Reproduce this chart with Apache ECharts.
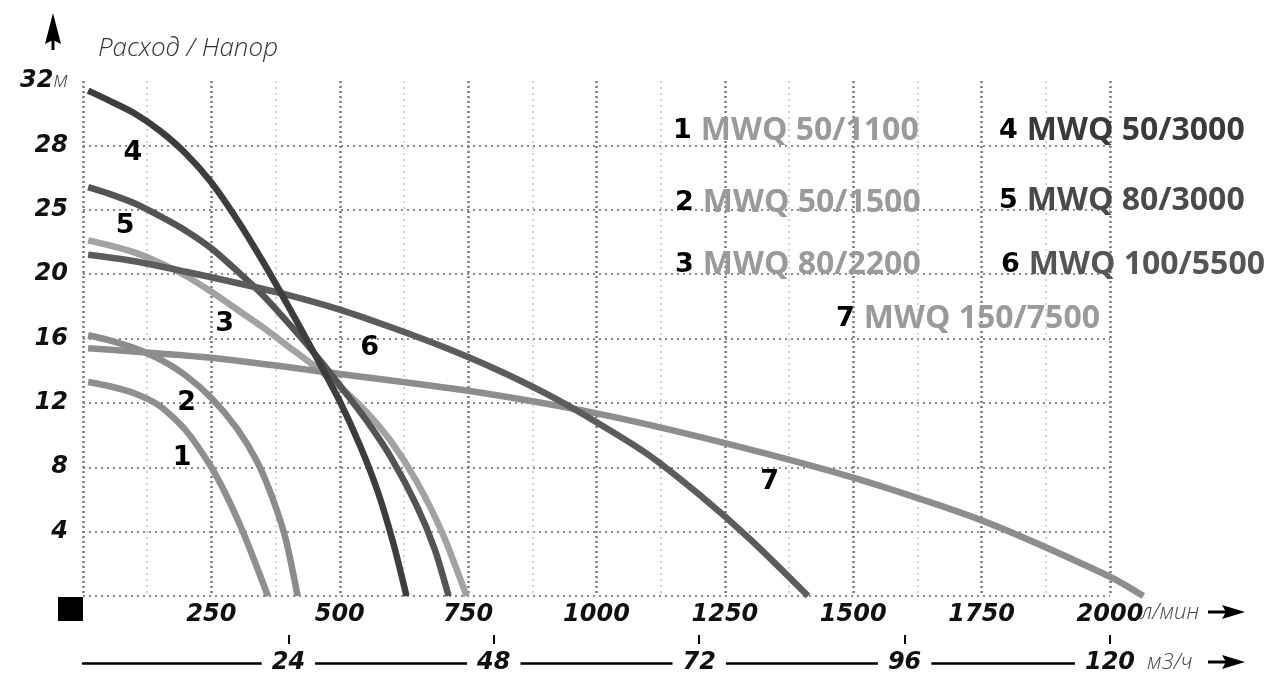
<!DOCTYPE html>
<html>
<head>
<meta charset="utf-8">
<script src="https://cdn.jsdelivr.net/npm/echarts@6/dist/echarts.min.js"></script>
<style>
html,body{margin:0;padding:0;background:#fff;overflow:hidden;}
#chart{width:1277px;height:673px;}
</style>
</head>
<body>
<div id="chart"></div>
<script>
// ---------- DATA ----------
const categories = ['MWQ 50/1100','MWQ 50/1500','MWQ 80/2200','MWQ 50/3000','MWQ 80/3000','MWQ 100/5500','MWQ 150/7500'];
const curveNumbers = ['1','2','3','4','5','6','7'];

// [flow l/min, head m] (head in axis position units)
const curve1 = [[10,13.3],[50,13.05],[100,12.6],[150,11.8],[200,10.3],[250,8.0],[280,6.2],[310,4.1],[335,2.1],[360,0]];
const curve2 = [[10,16.2],[50,15.9],[100,15.4],[150,14.7],[200,13.7],[250,12.3],[300,10.4],[340,8.3],[370,6.0],[395,3.5],[418,0]];
const curve3 = [[10,22.1],[50,21.8],[100,21.35],[150,20.7],[200,19.9],[250,18.9],[300,17.8],[350,16.7],[400,15.5],[450,14.3],[500,13.0],[550,11.5],[600,9.6],[650,7.1],[700,3.9],[747,0]];
const curve4 = [[10,31.4],[50,30.8],[100,30.0],[150,28.9],[200,27.5],[250,25.7],[300,23.4],[350,20.8],[400,18.0],[450,15.1],[500,12.1],[540,9.3],[575,6.4],[605,3.2],[630,0]];
const curve5 = [[10,25.4],[50,25.0],[100,24.4],[150,23.6],[200,22.7],[250,21.6],[300,20.2],[350,18.7],[400,16.95],[450,15.1],[500,13.1],[550,11.0],[600,8.6],[650,5.6],[685,2.9],[712,0]];
const curve6 = [[10,21.2],[100,20.8],[200,20.15],[300,19.45],[400,18.7],[500,17.8],[600,16.7],[700,15.5],[800,14.15],[900,12.6],[1000,10.8],[1100,8.8],[1200,6.3],[1300,3.5],[1412,0]];
const curve7 = [[10,15.4],[250,14.8],[500,13.8],[750,12.75],[1000,11.35],[1250,9.5],[1500,7.35],[1750,4.7],[2000,1.2],[2065,0]];
const curves = [curve1, curve2, curve3, curve4, curve5, curve6, curve7];

// curve number label anchor points [flow, head]
const labelPos = [[193,8.6],[202,12.0],[276,16.9],[97,27.5],[82,23.0],[558,15.4],[1337,7.1]];

// tick labels
const yTickLabels = ['', '4', '8', '12', '16', '20', '25', '28', '32'];
const m3hTicks = [24, 48, 72, 96, 120];

// ---------- LAYOUT / STYLE ----------
const gridLeft = 83, gridTop = 81, gridWidth = 1027, gridHeight = 515;
const flowMax = 2000, flowMaxExt = 2070;

const lineColors = ['#8f8f8f','#8c8c8c','#a2a2a2','#3d3d3d','#545454','#5c5c5c','#8d8d8d'];
const legendTextColors = ['#9a9a9a','#9a9a9a','#9a9a9a','#3a3a3a','#4a4a4a','#555555','#9a9a9a'];
const legendPos = [[667,115],[669,187],[669,249],[993,115],[993,185],[995,249],[830,303]];

const boldFont = 'DejaVu Sans';

const chart = echarts.init(document.getElementById('chart'), null, {renderer:'canvas', width:1277, height:673});

const legendRich = {
  n: {fontFamily: boldFont, fontWeight: 'bold', fontSize: 27, color: '#000', lineHeight: 34, padding: [0, 9, 0, 0]}
};
legendTextColors.forEach((c, i) => {
  legendRich['t' + i] = {fontFamily: 'Open Sans', fontWeight: 'bold', fontSize: 32, color: c, lineHeight: 34};
});

const legends = categories.map((name, i) => ({
  data: [name],
  left: legendPos[i][0],
  top: legendPos[i][1],
  padding: 0,
  itemWidth: 0,
  itemHeight: 0,
  selectedMode: false,
  formatter: n => '{n|' + curveNumbers[i] + '}{t' + i + '|' + n + '}',
  textStyle: {rich: legendRich}
}));

const series = curves.map((d, i) => ({
  name: categories[i],
  type: 'line',
  data: d,
  smooth: 0.25,
  symbol: 'none',
  clip: false,
  xAxisIndex: i === 6 ? 3 : 0,
  yAxisIndex: i === 6 ? 1 : 0,
  lineStyle: {width: 6.5, color: lineColors[i]},
  itemStyle: {color: lineColors[i]},
  emphasis: {disabled: true},
  z: [3,3,3,5,4,4,3][i],
  markPoint: {
    symbol: 'circle',
    symbolSize: 0,
    silent: true,
    data: [{coord: labelPos[i], value: curveNumbers[i]}],
    label: {
      show: true, position: 'inside', formatter: curveNumbers[i],
      fontFamily: boldFont, fontWeight: 'bold', fontSize: 27, color: '#000'
    }
  }
}));

const labelStyle = {
  fontFamily: boldFont, fontWeight: 'bold', fontStyle: 'italic', fontSize: 24, color: '#111'
};
const unitStyle = {fontFamily: 'Open Sans', fontStyle: 'italic', fontWeight: 300, fontSize: 22, color: '#444'};

const option = {
  animation: false,
  backgroundColor: '#fff',
  title: {
    text: 'Расход / Напор',
    left: 93, top: 31,
    textStyle: {fontFamily: 'Open Sans', fontStyle: 'italic', fontWeight: 300, fontSize: 26, color: '#333'}
  },
  legend: legends,
  grid: [
    {left: gridLeft, top: gridTop, width: gridWidth, height: gridHeight, containLabel: false, outerBoundsMode: 'none'},
    {left: gridLeft, top: gridTop, width: gridWidth * flowMaxExt / flowMax, height: gridHeight, containLabel: false, outerBoundsMode: 'none'}
  ],
  xAxis: [
    {
      type: 'value', min: 0, max: flowMax, interval: 250, position: 'bottom', gridIndex: 0,
      axisLine: {show: false}, axisTick: {show: false},
      axisLabel: Object.assign({margin: 7, formatter: v => v === 0 ? '' : String(v)}, labelStyle),
      splitLine: {show: true, lineStyle: {color: '#7a7a7a', width: 2.5, type: [2, 3]}},
      minorTick: {show: false, splitNumber: 2},
      minorSplitLine: {show: true, lineStyle: {color: '#c4c4c4', width: 1.5, type: [2, 4]}},
      name: 'л/мин', nameLocation: 'end', nameGap: 31, nameMoveOverlap: false,
      nameTextStyle: Object.assign({verticalAlign: 'top', padding: [6, 0, 0, 0]}, unitStyle)
    },
    {
      type: 'value', min: 0, max: 120, position: 'bottom', offset: 67, gridIndex: 0,
      axisLine: {show: true, lineStyle: {color: '#000', width: 2.5}},
      axisTick: {show: false},
      axisLabel: Object.assign({
        customValues: m3hTicks, margin: 0, verticalAlign: 'middle',
        backgroundColor: '#fff', padding: [3, 10, 3, 10]
      }, labelStyle),
      splitLine: {show: false},
      name: 'м3/ч', nameLocation: 'end', nameGap: 37, nameMoveOverlap: false,
      nameTextStyle: Object.assign({verticalAlign: 'middle'}, unitStyle)
    },
    {
      type: 'value', min: 0, max: 120, position: 'bottom', offset: 39, gridIndex: 0,
      axisLine: {show: false},
      axisTick: {show: true, customValues: m3hTicks, length: 9, lineStyle: {color: '#000', width: 2}},
      axisLabel: {show: false},
      splitLine: {show: false}
    },
    {
      type: 'value', min: 0, max: flowMaxExt, gridIndex: 1, show: false
    }
  ],
  yAxis: [
    {
      type: 'value', min: 0, max: 32, interval: 4, gridIndex: 0,
      axisLine: {show: false}, axisTick: {show: false},
      axisLabel: Object.assign({
        margin: 15,
        formatter: v => v === 32 ? '{b|32}{u|м}' : yTickLabels[Math.round(v / 4)],
        rich: {
          b: labelStyle,
          u: unitStyle
        }
      }, labelStyle),
      splitLine: {show: true, showMaxLine: false, lineStyle: {color: '#8a8a8a', width: 2, type: [2, 4]}}
    },
    {
      type: 'value', min: 0, max: 32, gridIndex: 1, show: false
    }
  ],
  graphic: [
    {type: 'polygon', shape: {points: [[53, 13], [61, 44], [53, 40], [45, 44]]}, style: {fill: '#000'}},
    {type: 'rect', shape: {x: 51.5, y: 38, width: 3, height: 12}, style: {fill: '#000'}},
    {type: 'rect', shape: {x: 1208, y: 610.5, width: 18, height: 3}, style: {fill: '#000'}},
    {type: 'polygon', shape: {points: [[1222, 605], [1245, 612], [1222, 619], [1226, 612]]}, style: {fill: '#000'}},
    {type: 'rect', shape: {x: 1208, y: 660.5, width: 18, height: 3}, style: {fill: '#000'}},
    {type: 'polygon', shape: {points: [[1222, 655], [1245, 662], [1222, 669], [1226, 662]]}, style: {fill: '#000'}},
    {type: 'rect', shape: {x: 58, y: 597, width: 25, height: 24}, style: {fill: '#000'}}
  ],
  series: series
};

chart.setOption(option);
</script>
</body>
</html>
